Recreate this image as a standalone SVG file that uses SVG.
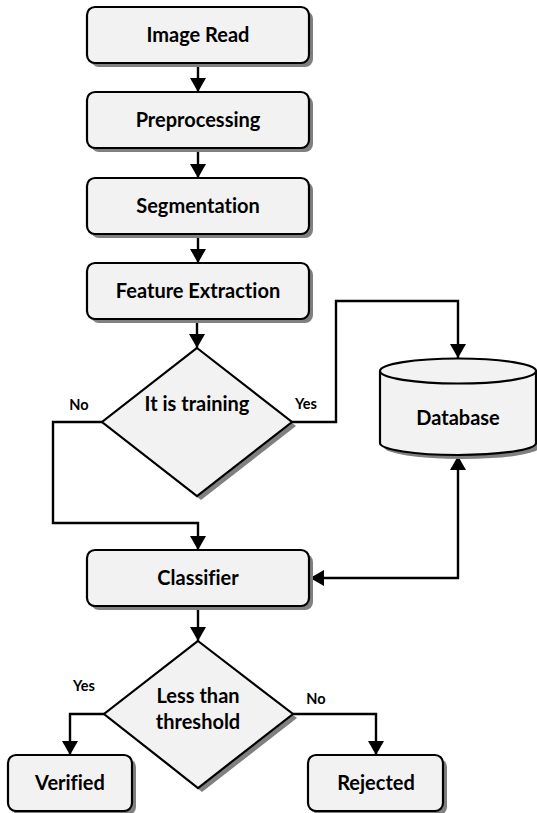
<svg xmlns="http://www.w3.org/2000/svg" width="537" height="813" viewBox="0 0 537 813">
<style>
.box{fill:#f2f2f2;stroke:#000;stroke-width:2.2}
.sh{fill:#808080;stroke:none}
.t{font-family:Lato,"Liberation Sans",sans-serif;font-weight:bold;font-size:20px;text-anchor:middle;fill:#000;font-variant-ligatures:none}
.l{font-family:Lato,"Liberation Sans",sans-serif;font-weight:bold;font-size:14.5px;text-anchor:middle;fill:#000}
.c{fill:none;stroke:#000;stroke-width:2.4}
</style>
<defs>
<marker id="ah" viewBox="0 0 14 16" refX="14" refY="8" markerWidth="14" markerHeight="16" markerUnits="userSpaceOnUse" orient="auto-start-reverse">
<path d="M0,0 L14,8 L0,16 Z" fill="#000"/>
</marker>
</defs>
<rect width="537" height="813" fill="#fff"/>
<g id="connectors">
<path class="c" d="M198,63 V92" marker-end="url(#ah)"/>
<path class="c" d="M198,148 V178" marker-end="url(#ah)"/>
<path class="c" d="M198,234 V263" marker-end="url(#ah)"/>
<path class="c" d="M197,319 V348" marker-end="url(#ah)"/>
<path class="c" d="M102,422 H53 V523 H198 V550" marker-end="url(#ah)"/>
<path class="c" d="M292,422 H336 V301 H458 V358" marker-end="url(#ah)"/>
<path class="c" d="M458,456 V578 H310" marker-start="url(#ah)" marker-end="url(#ah)"/>
<path class="c" d="M198,606 V641" marker-end="url(#ah)"/>
<path class="c" d="M104,714 H70 V755" marker-end="url(#ah)"/>
<path class="c" d="M293,714 H376 V755" marker-end="url(#ah)"/>
</g>
<g id="image-read">
<rect class="sh" x="91" y="11" width="222" height="56" rx="8"/>
<rect class="box" x="87" y="7" width="222" height="56" rx="8"/>
<text class="t" x="198" y="42">Image Read</text>
</g>
<g id="preprocessing">
<rect class="sh" x="91" y="96" width="222" height="56" rx="8"/>
<rect class="box" x="87" y="92" width="222" height="56" rx="8"/>
<text class="t" x="198" y="127">Preprocessing</text>
</g>
<g id="segmentation">
<rect class="sh" x="91" y="182" width="222" height="56" rx="8"/>
<rect class="box" x="87" y="178" width="222" height="56" rx="8"/>
<text class="t" x="198" y="213">Segmentation</text>
</g>
<g id="feature-extraction">
<rect class="sh" x="91" y="267" width="222" height="56" rx="8"/>
<rect class="box" x="87" y="263" width="222" height="56" rx="8"/>
<text class="t" x="198" y="298">Feature Extraction</text>
</g>
<g id="it-is-training">
<polygon class="sh" points="201,352 296,426 201,500 106,426"/>
<polygon class="box" points="197,348 292,422 197,496 102,422"/>
<text class="t" x="197" y="411">It is training</text>
<text class="l" x="79" y="410">No</text>
<text class="l" x="306" y="409">Yes</text>
</g>
<g id="database">
<path class="sh" d="M384,375 V447 A78,12 0 0 0 540,447 V375 Z"/>
<path class="box" d="M380,371 V443 A78,12 0 0 0 536,443 V371 A78,12.5 0 0 0 380,371 Z"/>
<path class="box" d="M380,371 A78,12.5 0 0 0 536,371"/>
<text class="t" x="458" y="425">Database</text>
</g>
<g id="classifier">
<rect class="sh" x="91" y="554" width="222" height="56" rx="8"/>
<rect class="box" x="87" y="550" width="222" height="56" rx="8"/>
<text class="t" x="198" y="585">Classifier</text>
</g>
<g id="less-than-threshold">
<polygon class="sh" points="202,645 297,718 202,792 108,718"/>
<polygon class="box" points="198,641 293,714 198,788 104,714"/>
<text class="t" x="198" y="703">Less than</text>
<text class="t" x="198" y="729">threshold</text>
<text class="l" x="84" y="691">Yes</text>
<text class="l" x="316" y="704">No</text>
</g>
<g id="verified">
<rect class="sh" x="12" y="759" width="124" height="56" rx="8"/>
<rect class="box" x="8" y="755" width="124" height="56" rx="8"/>
<text class="t" x="70" y="790">Verified</text>
</g>
<g id="rejected">
<rect class="sh" x="312" y="759" width="135" height="56" rx="8"/>
<rect class="box" x="308" y="755" width="135" height="56" rx="8"/>
<text class="t" x="376" y="790">Rejected</text>
</g>
</svg>
